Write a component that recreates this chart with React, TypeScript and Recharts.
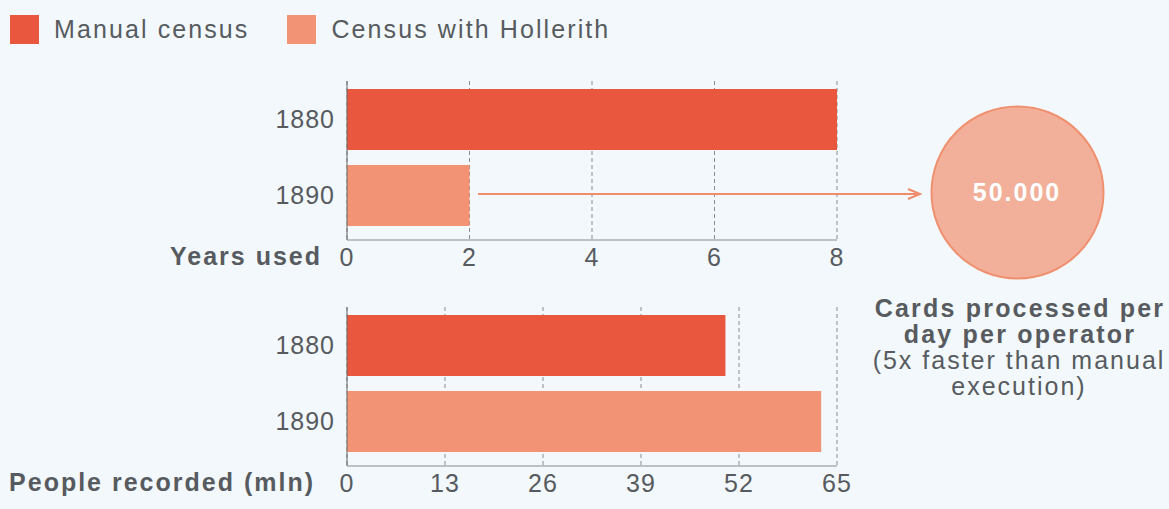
import { BarChart, Bar, Cell, XAxis, YAxis, CartesianGrid } from "recharts";

const categories = ["1880", "1890"];
const seriesNames = ["Manual census", "Census with Hollerith"];
const yearsUsed = [8, 2];
const peopleRecorded = [50.2, 62.9];
const yearTicks = [0, 2, 4, 6, 8];
const peopleTicks = [0, 13, 26, 39, 52, 65];
const cardsPerDay = "50.000";
const noteLines = ["Cards processed per", "day per operator"];
const subLines = ["(5x faster than manual", "execution)"];

const COLORS = ["#e9573f", "#f29375"];
const TEXT = "#575b60";
const FONT = '"Liberation Sans", Arial, Helvetica, sans-serif';

const yearsData = categories.map((c, i) => ({ year: c, value: yearsUsed[i] }));
const peopleData = categories.map((c, i) => ({ year: c, value: peopleRecorded[i] }));

const tickStyle = { fill: TEXT, fontSize: 25, fontFamily: FONT, letterSpacing: 1 };

function AxisTitle({ viewBox, text, offset }: any) {
  return (
    <text
      x={viewBox.x - offset}
      y={viewBox.y + 25}
      textAnchor="end"
      fill={TEXT}
      fontSize={25}
      fontWeight="bold"
      fontFamily={FONT}
      letterSpacing={2}
    >
      {text}
    </text>
  );
}

function Panel({
  data,
  ticks,
  max,
  title,
  titleOffset,
  height,
  top,
}: {
  data: { year: string; value: number }[];
  ticks: number[];
  max: number;
  title: string;
  titleOffset: number;
  height: number;
  top: number;
}) {
  return (
    <BarChart
      width={860}
      height={height}
      data={data}
      layout="vertical"
      margin={{ top, right: 23, bottom: 0, left: 0 }}
    >
      <CartesianGrid horizontal={false} stroke="#8c8c8c" strokeDasharray="4 3" />
      <XAxis
        type="number"
        domain={[0, max]}
        ticks={ticks}
        height={40}
        tickLine={false}
        axisLine={{ stroke: "#8a8a8a" }}
        tick={tickStyle}
        interval={0}
        label={{
          value: title,
          content: (p: any) => <AxisTitle viewBox={p.viewBox} text={title} offset={titleOffset} />,
        }}
      />
      <YAxis
        type="category"
        dataKey="year"
        width={347}
        padding={{ top: 0, bottom: 7 }}
        tickLine={false}
        tickMargin={6}
        axisLine={{ stroke: "#666" }}
        tick={tickStyle}
      />
      <Bar dataKey="value" barSize={61} isAnimationActive={false}>
        {data.map((_, i) => (
          <Cell key={i} fill={COLORS[i]} />
        ))}
      </Bar>
    </BarChart>
  );
}

export default function App() {
  return (
    <div
      style={{
        position: "absolute",
        left: 0,
        top: 0,
        width: 1169,
        height: 509,
        background: "#f2f8fb",
        fontFamily: FONT,
        overflow: "hidden",
      }}
    >
      {/* legend */}
      <div style={{ position: "absolute", left: 10, top: 15, display: "flex", alignItems: "center" }}>
        {seriesNames.map((name, i) => (
          <div key={name} style={{ display: "flex", alignItems: "center", marginRight: 38 }}>
            <div style={{ width: 29, height: 29, background: COLORS[i], marginRight: 15 }} />
            <span style={{ fontSize: 25, color: TEXT, letterSpacing: 2.1 }}>{name}</span>
          </div>
        ))}
      </div>

      <div style={{ position: "absolute", left: 0, top: 0 }}>
        <Panel data={yearsData} ticks={yearTicks} max={8} title="Years used" titleOffset={25} height={280} top={81} />
      </div>
      <div style={{ position: "absolute", left: 0, top: 290 }}>
        <Panel
          data={peopleData}
          ticks={peopleTicks}
          max={65}
          title="People recorded (mln)"
          titleOffset={32}
          height={216}
          top={17}
        />
      </div>

      {/* arrow + circle annotation */}
      <svg width={1169} height={509} style={{ position: "absolute", left: 0, top: 0, pointerEvents: "none" }}>
        <line x1={478} y1={194} x2={918} y2={194} stroke="#f08c6c" strokeWidth={2} />
        <path d="M908,189 L920,194 L908,199" fill="none" stroke="#f08c6c" strokeWidth={2} />
        <circle cx={1017.5} cy={192.5} r={86} fill="#f2b09b" stroke="#f0906f" strokeWidth={2} />
        <text
          x={1017}
          y={201}
          textAnchor="middle"
          fill="#ffffff"
          fontSize={25}
          fontWeight="bold"
          fontFamily={FONT}
          letterSpacing={2}
        >
          {cardsPerDay}
        </text>
        {noteLines.map((l, i) => (
          <text
            key={l}
            x={1020}
            y={317 + i * 26}
            textAnchor="middle"
            fill={TEXT}
            fontSize={25}
            fontWeight="bold"
            fontFamily={FONT}
            letterSpacing={2.2}
          >
            {l}
          </text>
        ))}
        {subLines.map((l, i) => (
          <text
            key={l}
            x={1019}
            y={369 + i * 26}
            textAnchor="middle"
            fill={TEXT}
            fontSize={25}
            fontFamily={FONT}
            letterSpacing={2}
          >
            {l}
          </text>
        ))}
      </svg>
    </div>
  );
}
